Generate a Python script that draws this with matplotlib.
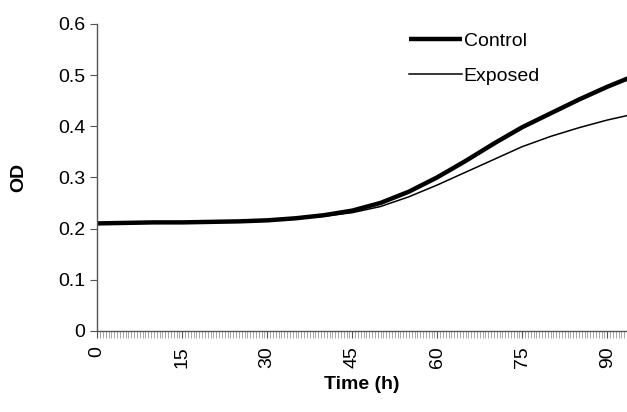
import matplotlib
matplotlib.use("Agg")
import matplotlib.pyplot as plt
import numpy as np

plt.rcParams['font.family'] = ['Liberation Sans', 'DejaVu Sans']

time_h = [0, 5, 10, 15, 20, 25, 30, 35, 40, 45, 50, 55, 60, 65, 70, 75, 80, 85, 90, 94]
control = [0.210, 0.211, 0.212, 0.212, 0.213, 0.214, 0.216, 0.220, 0.226, 0.235, 0.250,
           0.272, 0.300, 0.332, 0.366, 0.398, 0.425, 0.452, 0.477, 0.495]
exposed = [0.210, 0.211, 0.211, 0.212, 0.212, 0.213, 0.215, 0.219, 0.224, 0.231, 0.243,
           0.262, 0.285, 0.310, 0.335, 0.360, 0.380, 0.397, 0.412, 0.422]
x_ticks = [0, 15, 30, 45, 60, 75, 90]
y_ticks = [0, 0.1, 0.2, 0.3, 0.4, 0.5, 0.6]

fig = plt.figure(figsize=(6.27, 4.12), dpi=100)
ax = fig.add_axes([0.155, 0.197, 0.845, 0.745])

ax.plot(time_h, control, color='black', lw=3.2, label='Control', solid_capstyle='butt')
ax.plot(time_h, exposed, color='black', lw=1.1, label='Exposed')

ax.set_xlim(0, 93.5)
ax.set_ylim(0, 0.6)
ax.set_xticks(x_ticks)
ax.set_xticklabels([str(t) for t in x_ticks], rotation=90)
ax.set_xticks(np.arange(0, 94, 0.5), minor=True)
ax.set_yticks(y_ticks)
ax.set_yticklabels(['0', '0.1', '0.2', '0.3', '0.4', '0.5', '0.6'])

for s in ['top', 'right']:
    ax.spines[s].set_visible(False)
for s in ['left', 'bottom']:
    ax.spines[s].set_color('#555555')
    ax.spines[s].set_linewidth(1.0)

ax.tick_params(axis='both', which='major', labelsize=14, length=5, color='#555555', direction='out')
ax.tick_params(axis='x', which='minor', length=5, color='#999999', width=0.6)
ax.tick_params(axis='x', which='major', pad=6)

ax.set_xlabel('Time (h)', fontsize=14, fontweight='bold', labelpad=6)
ax.set_ylabel('OD', fontsize=14, fontweight='bold', labelpad=22)

leg = ax.legend(loc='upper left', bbox_to_anchor=(0.556, 1.03), frameon=False, fontsize=14,
                handlelength=2.7, handletextpad=0.1, labelspacing=0.9)

fig.savefig('out.png', dpi=100)
